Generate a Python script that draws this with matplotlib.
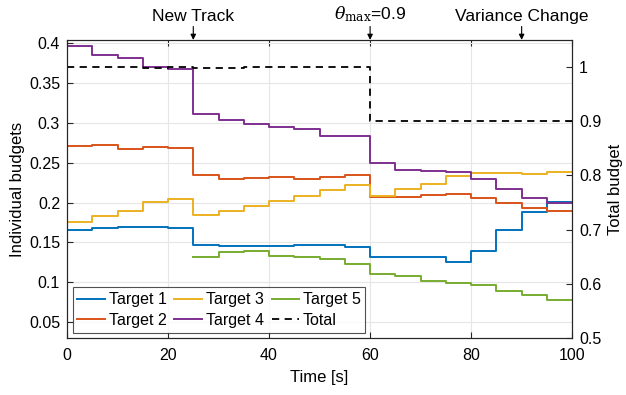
import numpy as np
import matplotlib.pyplot as plt

plt.rcParams['font.family'] = ['Liberation Sans', 'DejaVu Sans']
plt.rcParams['mathtext.fontset'] = 'dejavuserif'

# ----- datos -----
t = [0, 5, 10, 15, 20, 25, 30, 35, 40, 45, 50, 55, 60, 65, 70, 75, 80, 85, 90, 95, 100]
t5 = t[5:]

target1 = [0.165, 0.168, 0.169, 0.1695, 0.1675, 0.1466, 0.1453, 0.1449, 0.1449, 0.1474,
           0.1464, 0.1440, 0.1319, 0.1319, 0.1319, 0.1256, 0.139, 0.1654, 0.1883, 0.2009]
target2 = [0.2704, 0.272, 0.2674, 0.2695, 0.2687, 0.2344, 0.2294, 0.2302, 0.2318, 0.2297,
           0.2325, 0.2344, 0.2068, 0.2072, 0.2089, 0.2105, 0.2051, 0.1998, 0.1938, 0.1896]
target3 = [0.1758, 0.183, 0.1896, 0.2005, 0.2043, 0.184, 0.190, 0.1959, 0.2022, 0.2077,
           0.2154, 0.2218, 0.2084, 0.2168, 0.2227, 0.2333, 0.2365, 0.2373, 0.2352, 0.2381]
target4 = [0.396, 0.3845, 0.3815, 0.3695, 0.367, 0.311, 0.304, 0.298, 0.2945, 0.292,
           0.284, 0.283, 0.2495, 0.2412, 0.2397, 0.2378, 0.2300, 0.2168, 0.2055, 0.1992]
target5 = [0.1319, 0.1381, 0.139, 0.1336, 0.1319, 0.1286, 0.1227, 0.1110, 0.1076, 0.1018,
           0.0997, 0.0964, 0.0892, 0.0838, 0.0775]
total = [1.0, 1.0, 1.0, 0.999, 1.0, 0.999, 0.999, 1.0, 1.0, 1.0,
         1.0, 1.0, 0.9, 0.9, 0.9, 0.9, 0.9, 0.9, 0.9, 0.9]

colores = ['#0072BD', '#D95319', '#EDB120', '#7E2F8E', '#77AC30']
gris = '#262626'

fig = plt.figure(figsize=(6.26, 3.95), dpi=100)
ax = fig.add_axes([0.107, 0.144, 0.807, 0.755])
ax2 = ax.twinx()

lineas = []
for i, serie in enumerate([target1, target2, target3, target4]):
    l, = ax.plot(t, serie + [serie[-1]], drawstyle='steps-post', color=colores[i],
                 lw=1.4, label='Target %d' % (i + 1))
    lineas.append(l)
l5, = ax.plot(t5, target5 + [target5[-1]], drawstyle='steps-post', color=colores[4],
              lw=1.4, label='Target 5')
lineas.append(l5)
lt, = ax2.plot(t, total + [total[-1]], drawstyle='steps-post', color='black',
               lw=1.3, ls=(0, (4, 3)), label='Total')
lineas.append(lt)

ax.set_xlim(0, 100)
ax.set_ylim(0.03, 0.404)
ax2.set_ylim(0.5, 1.05)
ax.set_xticks([0, 20, 40, 60, 80, 100])
ax.set_yticks([0.05, 0.1, 0.15, 0.2, 0.25, 0.3, 0.35, 0.4])
ax.set_yticklabels(['0.05', '0.1', '0.15', '0.2', '0.25', '0.3', '0.35', '0.4'])
ax2.set_yticks([0.5, 0.6, 0.7, 0.8, 0.9, 1.0])
ax2.set_yticklabels(['0.5', '0.6', '0.7', '0.8', '0.9', '1'])

ax.grid(True, color='#e6e6e6', lw=0.8)
ax.set_axisbelow(True)
for a in (ax, ax2):
    for s in a.spines.values():
        s.set_color(gris)
        s.set_linewidth(0.8)
    a.tick_params(direction='in', colors=gris, labelsize=11.5, length=4, width=0.8,
                  labelcolor='black', pad=5)
ax.tick_params(axis='x', top=True, pad=7)

ax.set_xlabel('Time [s]', fontsize=12, labelpad=5)
ax.set_ylabel('Individual budgets', fontsize=12, labelpad=3)
ax2.set_ylabel('Total budget', fontsize=12, labelpad=5)

# eventos arriba
eventos = [(25, 'New Track'), (60, r'$\theta_{\mathrm{max}}$=0.9'), (90, 'Variance Change')]
for x, texto in eventos:
    ax.annotate('', xy=(x, 1.0), xycoords=('data', 'axes fraction'),
                xytext=(x, 1.045), textcoords=('data', 'axes fraction'),
                arrowprops=dict(arrowstyle='-|>', color='black', lw=0.8,
                                mutation_scale=8, shrinkA=0, shrinkB=0))
    ax.text(x, 1.052, texto, transform=ax.get_xaxis_transform(), ha='center',
            va='bottom', fontsize=12.5)

leg = ax.legend(handles=lineas, loc='lower left', ncol=3, fontsize=11.5,
                frameon=True, fancybox=False, edgecolor=gris, handlelength=1.7,
                handletextpad=0.25, columnspacing=0.5, labelspacing=0.35,
                borderpad=0.3, borderaxespad=0.35)
leg.get_frame().set_linewidth(0.8)
leg.set_zorder(10)

fig.savefig('out.png', dpi=100)
